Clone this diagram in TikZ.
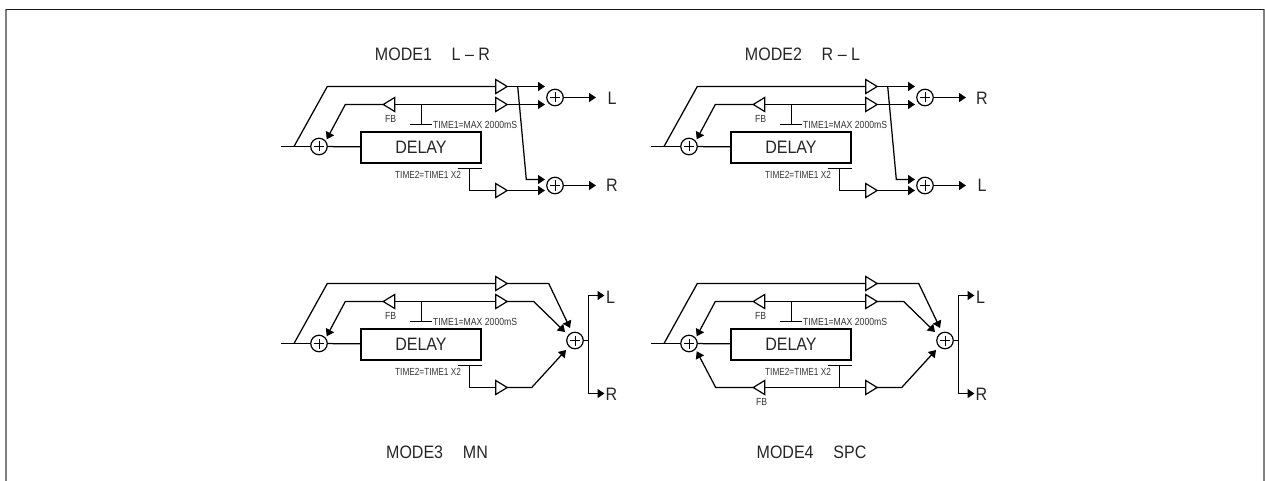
\documentclass[tikz,border=0pt]{standalone}
\usepackage{fontspec}
\setmainfont{Liberation Sans}
\newfontfamily\smallcond[FakeStretch=0.84]{Liberation Sans}
\newfontfamily\bigcond[FakeStretch=0.89]{Liberation Sans}
\usetikzlibrary{arrows.meta,shapes.geometric}
\tikzset{
  x=1pt,y=-1pt,
  wire/.style={draw=black,line width=1.25pt,line join=miter},
  arr/.style={wire,-{Triangle[length=7pt,width=9pt]}},
  gainr/.style={isosceles triangle,isosceles triangle stretches,draw=black,fill=white,line width=1.2pt,
     minimum width=14pt,minimum height=11.5pt,inner sep=0pt,outer sep=0pt,anchor=lower side},
  gainl/.style={gainr,shape border rotate=180},
  adder/.style={circle,draw=black,fill=white,line width=1.2pt,minimum size=16.5pt,inner sep=0pt,outer sep=0pt,
     path picture={\draw[line width=.9pt] (path picture bounding box.center) ++(-5pt,0) -- ++(10pt,0)
        (path picture bounding box.center) ++(0,-5pt) -- ++(0,10pt);}},
  delaybox/.style={rectangle,draw=black,line width=2.2pt,minimum width=120pt,minimum height=31pt,inner sep=0pt,font=\bigcond\fontsize{18}{18}\selectfont,text=black!85},
  title/.style={font=\bigcond\fontsize{18}{18}\selectfont,text=black!85,inner sep=0pt},
  chan/.style={font=\bigcond\fontsize{18}{18}\selectfont,text=black!85,inner sep=0pt},
  tiny/.style={font=\smallcond\fontsize{10.3}{12}\selectfont,text=black!80,inner sep=0pt},
  tapbar/.style={wire,line width=1.5pt},
}
% common part of each block, origin = mode 1 pixel coordinates
\newcommand{\blockbase}{%
  \coordinate (in) at (281,146.5);
  \coordinate (br) at (294,146.5);
  \coordinate (tl) at (327.3,86.5);
  \coordinate (fbc) at (345.3,104.5);
  \coordinate (tap1) at (421.5,104.5);
  \coordinate (bar1l) at (410,124.5);
  \coordinate (bar1m) at (421.5,124.5);
  \coordinate (bar1r) at (432,124.5);
  \coordinate (bar2l) at (457.7,168.5);
  \coordinate (bar2m) at (469.5,168.5);
  \coordinate (bar2r) at (481.5,168.5);
  \coordinate (tap2) at (469.5,190.5);
  \coordinate (arrA) at (326.7,139.3);
  \node[adder] (add) at (319,146.5) {};
  \node[delaybox] (dly) at (421,147.4) {DELAY};
  \node[gainr] (g1) at (495.7,86.5) {};
  \node[gainr] (g2) at (495.7,104.5) {};
  \node[gainr] (g3) at (495.7,190.5) {};
  \node[gainl] (fb) at (394.7,104.5) {};
  \node[tiny,anchor=center] (fbt) at (390.7,119) {FB};
  \node[tiny,anchor=west] (t1) at (433,124.9) {TIME1=MAX 2000mS};
  \node[tiny,anchor=west] (t2) at (395,175.4) {\addfontfeature{FakeStretch=0.8}TIME2=TIME1 X2};
  \draw[wire] (in) -- (add);
  \draw[wire] (br) -- (tl) -- (g1.lower side);
  \draw[wire] (add) -- (dly);
  \draw[wire] (g2.lower side) -- (fb.lower side);
  \draw[arr] (fb.apex) -- (fbc) -- (arrA);
  \draw[wire] (tap1) -- (bar1m);
  \draw[tapbar] (bar1l) -- (bar1r);
  \draw[tapbar] (bar2l) -- (bar2r);
  \draw[wire] (bar2m) -- (tap2) -- (g3.lower side);
}
% outputs of modes 1 and 2
\newcommand{\blockout}[2]{%
  \coordinate (e1) at (545,86.5);
  \coordinate (e2) at (545,104.5);
  \coordinate (e3) at (545,190.5);
  \coordinate (e4) at (545,179.5);
  \coordinate (x1) at (517.7,86.5);
  \coordinate (x2) at (526.3,179.5);
  \coordinate (o1) at (596,97.5);
  \coordinate (o2) at (596,185.5);
  \node[adder] (a1) at (555,97.5) {};
  \node[adder] (a2) at (555,185.5) {};
  \node[chan] (l1) at (612,98.5) {#1};
  \node[chan] (l2) at (612,185.5) {#2};
  \draw[arr] (g1.apex) -- (e1);
  \draw[arr] (g2.apex) -- (e2);
  \draw[arr] (g3.apex) -- (e3);
  \draw[arr] (x1) -- (x2) -- (e4);
  \draw[arr] (a1) -- (o1);
  \draw[arr] (a2) -- (o2);
}
% outputs of modes 3 and 4
\newcommand{\blockmix}{%
  \coordinate (c1) at (548.7,86.5);
  \coordinate (c2) at (533.7,104.5);
  \coordinate (c3) at (531.7,190.5);
  \coordinate (p1) at (570,131);
  \coordinate (p2) at (565,135);
  \coordinate (p3) at (566,153);
  \coordinate (oc) at (588.5,143.5);
  \coordinate (ou) at (588.5,98.5);
  \coordinate (od) at (588.5,196.5);
  \coordinate (ue) at (604.5,98.5);
  \coordinate (de) at (604.5,196.5);
  \node[adder] (a1) at (575,143.5) {};
  \node[chan] (l1) at (610.5,100) {L};
  \node[chan] (l2) at (611.5,197) {R};
  \draw[arr] (g1.apex) -- (c1) -- (p1);
  \draw[arr] (g2.apex) -- (c2) -- (p2);
  \draw[arr] (g3.apex) -- (c3) -- (p3);
  \draw[wire] (a1) -- (oc);
  \draw[arr] (oc) -- (ou) -- (ue);
  \draw[arr] (oc) -- (od) -- (de);
}
\begin{document}
\begin{tikzpicture}[x=1pt,y=-1pt]
\useasboundingbox (0,0) rectangle (1265,481);
\coordinate (fa) at (6,481);
\coordinate (fb0) at (6,9.5);
\coordinate (fb1) at (1264,9.5);
\coordinate (fd) at (1264,481);
\draw[line width=2pt,black!50] (fa) -- (fb0);
\draw[line width=2pt,black!50] (fb1) -- (fd);
\draw[line width=1pt,black!90] (fb0) -- (fb1);
\node[title] (tt1) at (432.5,54) {MODE1\hspace{1.1em}L – R};
\node[title] (tt2) at (802.5,54) {MODE2\hspace{1.1em}R – L};
\node[title] (tt3) at (437,452.5) {MODE3\hspace{1.1em}MN};
\node[title] (tt4) at (811.5,452.5) {MODE4\hspace{1.1em}SPC};
\begin{scope}[name prefix=a-]
  \blockbase \blockout{L}{R}
\end{scope}
\begin{scope}[shift={(370,0)},name prefix=b-]
  \blockbase \blockout{R}{L}
\end{scope}
\begin{scope}[shift={(0,197)},name prefix=c-]
  \blockbase \blockmix
\end{scope}
\begin{scope}[shift={(370,197)},name prefix=d-]
  \blockbase
  \node[gainl] (fb2) at (394.7,190.5) {};
  \node[tiny,anchor=center] (fbt2) at (391.7,205) {FB};
  \coordinate (fbd) at (345.7,190.5);
  \coordinate (arrB) at (326.7,154.3);
  \draw[wire] (tap2) -- (fb2.lower side);
  \draw[arr] (fb2.apex) -- (fbd) -- (arrB);
  \blockmix
\end{scope}
\end{tikzpicture}
\end{document}
